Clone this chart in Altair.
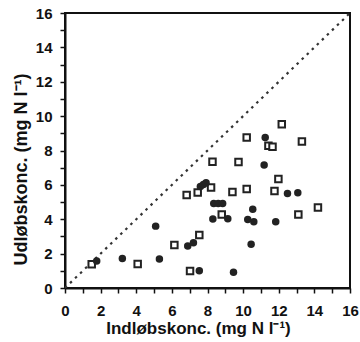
import altair as alt
import pandas as pd

# open squares
sq_x = [1.5, 4.08, 7.02, 6.14, 7.54, 6.83, 7.45, 8.2, 9.4, 10.2, 11.76, 8.8, 13.1, 14.2,
        11.98, 8.28, 9.74, 10.2, 11.42, 11.65, 13.3, 12.17]
sq_y = [1.38, 1.40, 0.99, 2.5, 3.08, 5.41, 5.56, 5.85, 5.58, 5.76, 5.64, 4.28, 4.28, 4.69,
        6.34, 7.34, 7.33, 8.76, 8.27, 8.22, 8.52, 9.53]

# filled circles
ci_x = [1.78, 3.22, 5.3, 5.09, 6.89, 7.21, 7.54, 9.46, 10.45, 8.3, 9.14, 10.26, 10.6, 11.83,
        8.35, 8.6, 8.85, 10.54, 12.49, 13.07, 7.6, 7.77, 7.92, 11.18, 11.24]
ci_y = [1.57, 1.72, 1.69, 3.6, 2.44, 2.63, 1.0, 0.91, 2.54, 4.01, 4.03, 3.99, 3.86, 3.86,
        4.92, 4.92, 4.92, 4.58, 5.5, 5.54, 5.9, 6.02, 6.12, 7.15, 8.76]

diag = [0, 16]

ticks = list(range(0, 17))
FONT = "Liberation Sans"

sq_df = pd.DataFrame({"x": sq_x, "y": sq_y})
ci_df = pd.DataFrame({"x": ci_x, "y": ci_y})
dg_df = pd.DataFrame({"x": diag, "y": diag})

xscale = alt.Scale(domain=[0, 16], nice=False, zero=False)
yscale = alt.Scale(domain=[0, 16], nice=False, zero=False)

xaxis = alt.Axis(values=ticks, labelExpr="datum.value % 2 == 0 ? datum.label : ''",
                 title="Indløbskonc. (mg N l⁻¹)", grid=False,
                 labelOverlap=False, labelFlush=False, labelBound=False,
                 titleX=133, titleY=40, titleBaseline="middle", titleAlign="center")
yaxis = alt.Axis(values=ticks, labelExpr="datum.value % 2 == 0 ? datum.label : ''",
                 title="Udløbskonc. (mg N l⁻¹)", grid=False,
                 labelOverlap=False, labelFlush=False, labelBound=False,
                 titleX=-44, titleY=156, titleAngle=270, titleFontSize=18,
                 titleBaseline="middle", titleAlign="center")

X = alt.X("x:Q", scale=xscale, axis=xaxis)
Y = alt.Y("y:Q", scale=yscale, axis=yaxis)

line = alt.Chart(dg_df).mark_line(color="#333333", strokeWidth=2.2, strokeDash=[2.5, 4.5],
                                  strokeCap="butt").encode(x=X, y=Y)

squares = alt.Chart(sq_df).mark_point(shape="square", size=42, filled=False,
                                      color="#222222", strokeWidth=2, fill="white",
                                      fillOpacity=1, opacity=1).encode(x=X, y=Y)

circles = alt.Chart(ci_df).mark_point(shape="circle", size=56, filled=True,
                                      color="#222222", opacity=1).encode(x=X, y=Y)

chart = alt.layer(line, squares, circles).properties(
    width=285, height=275,
    autosize=alt.AutoSizeParams(type="none"),
    padding={"left": 65, "top": 13, "right": 10, "bottom": 54},
    background="white",
).configure_view(
    stroke="#111111", strokeWidth=2
).configure_axis(
    domainColor="#111111", domainWidth=2,
    tickColor="#111111", tickWidth=1.5, tickSize=5,
    labelFont=FONT, labelFontSize=15, labelFontWeight="bold", labelColor="#111111",
    titleFont=FONT, titleFontSize=17, titleFontWeight="bold", titleColor="#111111",
).configure_axisX(labelPadding=10).configure_axisY(labelPadding=8)

chart.save("out.html", embed_options={"renderer": "svg", "actions": False})
